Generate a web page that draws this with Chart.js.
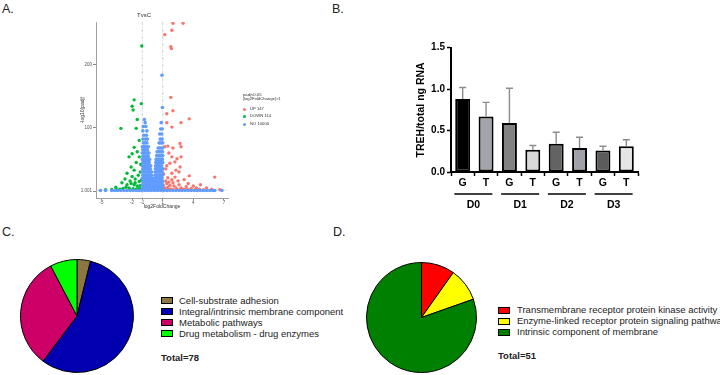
<!DOCTYPE html>
<html>
<head>
<meta charset="utf-8">
<script src="https://cdn.jsdelivr.net/npm/chart.js@4.4.1/dist/chart.umd.min.js"></script>
<style>
  body { margin: 0; background: #fff; font-family: "Liberation Sans", Arial, sans-serif; }
  #page { position: relative; width: 720px; height: 375px; overflow: hidden; }
  canvas { position: absolute; }
  .panel { position: absolute; font-size: 12.5px; line-height: 1; color: #222; }
  .leg { position: absolute; font-size: 9.5px; line-height: 11px; color: #222; white-space: nowrap; }
  .box { position: absolute; width: 10px; height: 5px; border: 1px solid #000; }
  .vleg { position: absolute; font-size: 4.2px; line-height: 4.4px; color: #333; white-space: nowrap; }
  .dot { position: absolute; width: 3px; height: 3px; border-radius: 50%; }
</style>
</head>
<body>
<div id="page">
  <div class="panel" style="left:2px;top:3px">A.</div>
  <div class="panel" style="left:332px;top:3px">B.</div>
  <div class="panel" style="left:2px;top:226px">C.</div>
  <div class="panel" style="left:333px;top:226px">D.</div>

  <canvas id="volcano" width="200" height="215" style="left:60px;top:0px"></canvas>
  <canvas id="trehChart" width="250" height="190" style="left:400px;top:30px"></canvas>
  <canvas id="pieC" width="114" height="114" style="left:20px;top:259px"></canvas>
  <canvas id="pieD" width="111" height="111" style="left:366px;top:262px"></canvas>
</div>

<script>
// ---------- A. volcano plot (TvsC) ----------
const volcanoTitle = 'TvsC';
const volcanoXTitle = 'log2FoldChange';
const volcanoYTitle = '-log10(padj)';
const volcanoXTicks = [-5, -2, -1, 1, 4, 7];
const volcanoYTicks = [0, 100, 200];
const volcanoYLabels = ['1.001', '100', '200'];
const fcCutoff = [-1, 1];
const padjCutoff = [1.3];
const volcanoLegendTitle = ['padj<0.05', '|log2FoldChange|>1'];
const volcanoGroups = ['UP 147', 'DOWN 114', 'NO 10000'];

// [log2FC, -log10 padj]
const upPoints = [
  [2.0,265],[3.0,265],[1.9,254],[1.2,247],[1.8,228],[1.85,225],[1.8,148],[1.4,122],[2.0,127],
  [3.6,114],[2.8,108],[1.4,108],[1.9,101],[1.2,70],[1.5,71],[2.0,68],[2.7,75],[2.8,70],
  [1.9,54],[2.4,51],[2.8,54],[1.7,44],[2.2,46],[1.4,40],[2.7,38],[1.9,28],[2.6,30],[3.6,24],
  [6.1,22],[1.1,27],[1.5,21],[1.3,35],[1.6,60],[2.3,33],[3.1,18],[2.5,16],[4.7,10],[3.5,12],
  [2.0,13],[4.3,5],[3.3,7],[1.7,9],[5.3,5],[2.3,5],[3.0,3],[1.5,6],[1.2,4],[1.4,12],[1.8,3],
  [2.1,8],[2.6,10],[2.8,5],[3.8,4],[4.0,8],[1.3,16],[1.6,14],[2.4,3],[3.4,3],[4.6,3],[5.8,3],
  [1.1,8],[1.9,18],[2.2,22],[1.25,2.5],[1.55,2.5],[2.0,2],[2.7,2],[3.2,2],[3.7,2],[4.2,2],
  [5.0,2],[6.6,2]
];
const downPoints = [
  [-1.05,229],[-1.8,144],[-2.0,134],[-1.9,128],[-1.1,138],[-3.1,99],[-1.5,113],[-1.6,99],
  [-1.3,80],[-1.8,69],[-1.5,62],[-2.0,59],[-2.3,54],[-1.3,54],[-2.1,38],[-1.8,33],[-2.5,28],
  [-2.0,23],[-2.7,19],[-1.7,19],[-2.2,16],[-1.3,15],[-3.0,13],[-2.5,10],[-1.8,10],[-1.5,8],
  [-3.6,6],[-2.3,5],[-3.2,3],[-4.0,2.5],[-1.3,5],[-1.9,3.5],[-1.1,17],[-1.2,30],[-1.4,25],
  [-1.6,45],[-1.15,42],[-2.6,6],[-2.9,4],[-1.6,3],[-1.2,9],[-2.1,12],[-1.7,13],[-1.4,2],
  [-2.2,2],[-3.5,2],[-4.6,2],[-1.1,2.5]
];
// not significant genes, listed row by row: [-log10 padj, [log2FC ...]]
const noRows = [
  [183,[0.93]],
  [132,[0.97]],
  [113,[-0.8]],
  [108,[-0.72,0.85]],
  [102,[-0.9,-0.65]],
  [98,[0.8,0.95]],
  [95,[-0.95,-0.55]],
  [90,[0.7,0.9]],
  [88,[-0.85,-0.6]],
  [82,[-0.95,-0.7,-0.5,0.75,0.95]],
  [76,[-0.9,-0.75,-0.55,0.65,0.85,1.0]],
  [70,[-1.0,-0.85,-0.7,-0.5,-0.4]],
  [68,[0.55,0.7,0.88,0.98]],
  [65,[-0.95,-0.8,-0.65,-0.5]],
  [62,[0.45,0.58,0.72,0.85,0.98]],
  [60,[-1.0,-0.88,-0.75,-0.6,-0.45,-0.35]],
  [56,[0.4,0.52,0.65,0.78,0.9,1.0]],
  [55,[-0.95,-0.82,-0.68,-0.55,-0.42]],
  [50,[-1.0,-0.88,-0.75,-0.62,-0.5,-0.38,-0.28,0.35,0.47,0.6,0.72,0.85,0.97]],
  [45,[-0.95,-0.82,-0.7,-0.58,-0.45,-0.33,0.32,0.44,0.56,0.68,0.8,0.92,1.0]],
  [40,[-1.0,-0.88,-0.76,-0.64,-0.52,-0.4,-0.28,-0.18,0.3,0.42,0.54,0.66,0.78,0.9]],
  [35,[-0.95,-0.83,-0.7,-0.58,-0.46,-0.34,-0.22,0.28,0.4,0.52,0.64,0.76,0.88,1.0]],
  [30,[-1.0,-0.88,-0.76,-0.64,-0.52,-0.4,-0.28,-0.16,-0.08,0.26,0.38,0.5,0.62,0.74,0.86,0.96]],
  [25,[-0.95,-0.83,-0.7,-0.58,-0.46,-0.34,-0.22,-0.1,0.24,0.36,0.48,0.6,0.72,0.84,0.96]],
  [20,[-1.0,-0.88,-0.76,-0.64,-0.52,-0.4,-0.28,-0.16,-0.04,0.02,0.22,0.34,0.46,0.58,0.7,0.82,0.94]],
  [15,[-0.95,-0.83,-0.7,-0.58,-0.46,-0.34,-0.22,-0.1,0.05,0.2,0.32,0.44,0.56,0.68,0.8,0.92,1.0]],
  [10,[-1.0,-0.88,-0.76,-0.64,-0.52,-0.4,-0.28,-0.16,-0.04,0.08,0.2,0.3,0.42,0.54,0.66,0.78,0.9,1.0]],
  [6,[-0.95,-0.83,-0.7,-0.58,-0.46,-0.34,-0.22,-0.1,0.02,0.14,0.26,0.38,0.5,0.62,0.74,0.86,0.98]],
  [3,[-1.0,-0.8,-0.6,-0.4,-0.2,0,0.2,0.4,0.6,0.8,1.0]],
  [0.8,[-5.1,-4.6,-4.0,-3.7,-3.4,-3.1,-2.8,-2.5,-2.2,-1.9,-1.6,-1.3,-1.0,-0.7,-0.4,-0.1,0.2,0.5,
        0.8,1.1,1.4,1.7,2.0,2.3,2.6,2.9,3.2,3.5,3.8,4.1,4.4,4.7,5.0,5.3,5.6,5.9,6.1,6.8]]
];

// ---------- B. TREH bar chart ----------
const trehCategories = ['G', 'T', 'G', 'T', 'G', 'T', 'G', 'T'];
const trehDays = ['D0', 'D1', 'D2', 'D3'];
const trehMean = [0.88, 0.67, 0.59, 0.27, 0.34, 0.29, 0.26, 0.31];
const trehSd = [0.14, 0.17, 0.42, 0.05, 0.14, 0.13, 0.05, 0.08];
const trehColors = ['#000000', '#a3a3aa', '#828282', '#d9d9d9', '#636363', '#a0a0a8', '#5c5c5c', '#e6e6e6'];
const trehYTitle = 'TREH/total ng RNA';

// ---------- C. / D. pies ----------
const cLabels = ['Cell-substrate adhesion', 'Integral/intrinsic membrane component', 'Metabolic pathways', 'Drug metabolism - drug enzymes'];
const cValues = [3, 44, 25, 6];
const cColors = ['#8c7743', '#0000b0', '#cc0066', '#00ff00'];
const cTotal = 'Total=78';

const dLabels = ['Transmembrane receptor protein kinase activity', 'Enzyme-linked receptor protein signaling pathway', 'Intrinsic component of membrane'];
const dValues = [5, 5, 41];
const dColors = ['#ff0000', '#ffff00', '#008000'];
const dTotal = 'Total=51';

const FONT = '"Liberation Sans", Arial, sans-serif';
Chart.defaults.font.family = FONT;
Chart.defaults.animation = false;

const toXY = p => ({x: p[0], y: p[1]});
const noPoints = [];
noRows.forEach(r => r[1].forEach(x => noPoints.push([x, r[0]])));

// dashed cut-off lines of the volcano plot
const cutoffLines = {
    id: 'cutoffLines',
    beforeDatasetsDraw(chart) {
        const {ctx, chartArea: a, scales: {x, y}} = chart;
        ctx.save();
        ctx.strokeStyle = '#c4c4c4';
        ctx.lineWidth = 0.8;
        ctx.setLineDash([3, 1.5, 1, 1.5]);
        fcCutoff.forEach(v => {
            const px = x.getPixelForValue(v);
            ctx.beginPath(); ctx.moveTo(px, a.top); ctx.lineTo(px, a.bottom); ctx.stroke();
        });
        padjCutoff.forEach(v => {
            const py = y.getPixelForValue(v);
            ctx.beginPath(); ctx.moveTo(a.left, py); ctx.lineTo(a.right, py); ctx.stroke();
        });
        ctx.restore();
    }
};

new Chart(document.getElementById('volcano'), {
    type: 'scatter',
    data: {
        datasets: [
            {label: volcanoGroups[2], data: noPoints.map(toXY), backgroundColor: '#619CFF', pointRadius: 1.8},
            {label: volcanoGroups[0], data: upPoints.map(toXY), backgroundColor: '#F8766D', pointRadius: 1.7},
            {label: volcanoGroups[1], data: downPoints.map(toXY), backgroundColor: '#00BA38', pointRadius: 1.7}
        ]
    },
    options: {
        responsive: false,
        layout: {padding: {left: 0, right: 32, top: 0, bottom: 0}},
        elements: {point: {borderWidth: 0}},
        plugins: {
            legend: {display: false},
            tooltip: {enabled: false},
            title: {display: true, text: volcanoTitle, color: '#333', font: {size: 6, weight: 'normal'}, padding: {top: 12, bottom: 2.8}}
        },
        scales: {
            x: {
                type: 'linear', min: -5.54, max: 7.4,
                afterBuildTicks: s => { s.ticks = volcanoXTicks.map(v => ({value: v})); },
                grid: {drawOnChartArea: false, tickLength: 2, color: '#888'},
                border: {color: '#888', width: 0.8},
                ticks: {font: {size: 4.5}, color: '#555', padding: 0, autoSkip: false, maxRotation: 0},
                title: {display: true, text: volcanoXTitle, color: '#333', font: {size: 5}, padding: {top: 0, bottom: 5}},
                afterFit: s => { s.height = 17; }
            },
            y: {
                min: -11, max: 267,
                afterBuildTicks: s => { s.ticks = volcanoYTicks.map(v => ({value: v})); },
                grid: {drawOnChartArea: false, tickLength: 3, color: '#888'},
                border: {color: '#888', width: 0.8},
                ticks: {font: {size: 4.5}, color: '#555', padding: 1, callback: v => volcanoYLabels[volcanoYTicks.indexOf(v)]},
                title: {display: true, text: volcanoYTitle, color: '#333', font: {size: 5}, padding: {top: 20, bottom: 0}},
                afterFit: s => { s.width = 36; }
            }
        }
    },
    plugins: [cutoffLines]
});

// error bars (upper only) for the TREH chart
const errorBars = {
    id: 'errorBars',
    afterDatasetsDraw(chart) {
        const {ctx, scales: {y}} = chart;
        const meta = chart.getDatasetMeta(0);
        ctx.save();
        ctx.strokeStyle = '#8c8c8c';
        ctx.lineWidth = 1.4;
        meta.data.forEach((bar, i) => {
            const top = y.getPixelForValue(trehMean[i] + trehSd[i]);
            ctx.beginPath();
            ctx.moveTo(bar.x, bar.y);
            ctx.lineTo(bar.x, top);
            ctx.moveTo(bar.x - 3.5, top);
            ctx.lineTo(bar.x + 3.5, top);
            ctx.stroke();
        });
        ctx.restore();
    }
};

// day group lines and labels under the G/T ticks
const dayGroups = {
    id: 'dayGroups',
    afterDraw(chart) {
        const {ctx, chartArea: a, scales: {x}} = chart;
        ctx.save();
        ctx.strokeStyle = '#000';
        ctx.fillStyle = '#000';
        ctx.lineWidth = 1.3;
        ctx.font = 'bold 10.5px ' + FONT;
        ctx.textAlign = 'center';
        ctx.textBaseline = 'middle';
        trehDays.forEach((d, g) => {
            const mid = (x.getPixelForValue(2 * g) + x.getPixelForValue(2 * g + 1)) / 2 - 1;
            ctx.beginPath();
            ctx.moveTo(mid - 19, a.bottom + 22);
            ctx.lineTo(mid + 19, a.bottom + 22);
            ctx.stroke();
            ctx.fillText(d, mid, a.bottom + 33);
        });
        ctx.restore();
    }
};

new Chart(document.getElementById('trehChart'), {
    type: 'bar',
    data: {
        labels: trehCategories,
        datasets: [{
            data: trehMean,
            backgroundColor: trehColors,
            borderColor: '#000',
            borderWidth: 2,
            borderSkipped: false,
            barPercentage: 0.64,
            categoryPercentage: 1
        }]
    },
    options: {
        responsive: false,
        layout: {padding: {left: 0, right: 12, top: 17.7, bottom: 0}},
        plugins: {legend: {display: false}, tooltip: {enabled: false}},
        scales: {
            x: {
                grid: {drawOnChartArea: false, tickLength: 4, tickColor: '#000', tickWidth: 1.5},
                border: {color: '#000', width: 2},
                ticks: {font: {size: 10.5, weight: 'bold'}, color: '#000', padding: 1},
                afterFit: s => { s.height = 48; }
            },
            y: {
                min: 0, max: 1.5,
                grid: {drawOnChartArea: false, tickLength: 4, tickColor: '#000', tickWidth: 1.5},
                border: {color: '#000', width: 2},
                ticks: {stepSize: 0.5, font: {size: 10, weight: 'bold'}, color: '#000', padding: 2, callback: v => v.toFixed(1)},
                title: {display: true, text: trehYTitle, color: '#000', font: {size: 10.5, weight: 'bold'}, padding: {top: 15, bottom: 0}},
                afterFit: s => { s.width = 51; }
            }
        }
    },
    plugins: [errorBars, dayGroups]
});

function pie(id, labels, values, colors) {
    new Chart(document.getElementById(id), {
        type: 'pie',
        data: {labels: labels, datasets: [{data: values, backgroundColor: colors, borderColor: '#000', borderWidth: 1}]},
        options: {
            responsive: false,
            plugins: {legend: {display: false}, tooltip: {enabled: false}}
        }
    });
}
pie('pieC', cLabels, cValues, cColors);
pie('pieD', dLabels, dValues, dColors);

// legends as plain text next to the pies
const page = document.getElementById('page');
function legend(labels, colors, boxX, textX, firstY, step, total, totalY) {
    labels.forEach((t, i) => {
        const cy = firstY + i * step;
        const b = document.createElement('div');
        b.className = 'box';
        b.style.left = boxX + 'px';
        b.style.top = (cy - 3.5) + 'px';
        b.style.background = colors[i];
        page.appendChild(b);
        const s = document.createElement('div');
        s.className = 'leg';
        s.style.left = textX + 'px';
        s.style.top = (cy - 5.6) + 'px';
        s.textContent = t;
        page.appendChild(s);
    });
    const tt = document.createElement('div');
    tt.className = 'leg';
    tt.style.left = boxX + 'px';
    tt.style.top = (totalY - 5.6) + 'px';
    tt.style.fontWeight = 'bold';
    tt.textContent = total;
    page.appendChild(tt);
}
legend(cLabels, cColors, 161, 179, 300.7, 10.8, cTotal, 358);
legend(dLabels, dColors, 498, 517, 310, 11, dTotal, 356);

// volcano legend
volcanoLegendTitle.forEach((t, i) => {
    const s = document.createElement('div');
    s.className = 'vleg';
    s.style.left = '243px';
    s.style.top = (92.5 + i * 4.4) + 'px';
    s.textContent = t;
    page.appendChild(s);
});
const vColors = ['#F8766D', '#00BA38', '#619CFF'];
volcanoGroups.forEach((t, i) => {
    const cy = 109 + i * 7.5;
    const d = document.createElement('div');
    d.className = 'dot';
    d.style.left = '243px';
    d.style.top = (cy - 1.5) + 'px';
    d.style.background = vColors[i];
    page.appendChild(d);
    const s = document.createElement('div');
    s.className = 'vleg';
    s.style.left = '250px';
    s.style.top = (cy - 2.2) + 'px';
    s.textContent = t;
    page.appendChild(s);
});
</script>
</body>
</html>
